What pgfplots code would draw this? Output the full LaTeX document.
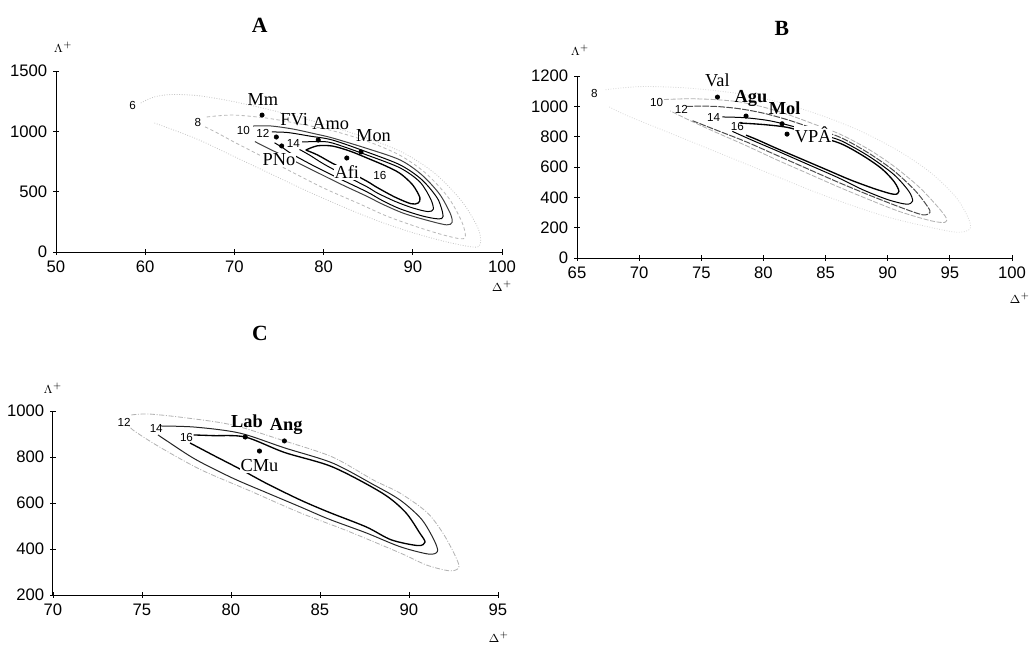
\documentclass[border=0pt]{standalone}
\usepackage{fontspec}
\setmainfont{Liberation Sans}
\newfontfamily\tms{Liberation Serif}
\usepackage{pgfplots}
\pgfplotsset{compat=1.18}

\pgfplotsset{
  panel/.style={
    scale only axis,
    axis lines=left,
    axis line style={-, line width=0.6pt},
    tick align=center,
    major tick length=3.5pt,
    tick style={black, line width=0.5pt},
    ticklabel style={font=\fontsize{10}{12}\selectfont},
    /pgf/number format/assume math mode=true,
    /pgf/number format/1000 sep={},
    clip=false,
  },
  c06/.style={gray!45, densely dotted, line width=0.5pt, smooth, no markers},
  c08/.style={gray!55, dash pattern=on 2pt off 1.5pt, line width=0.5pt, smooth, no markers},
  c10/.style={black!75, line width=0.6pt, smooth, no markers},
  cblk/.style={black, line width=0.6pt, smooth, no markers},
  cthk/.style={black, line width=0.8pt, smooth, no markers},
  cgdash/.style={gray!60, dash pattern=on 3pt off 1pt, line width=0.5pt, smooth, no markers},
  cgdd/.style={gray!60, dash pattern=on 3pt off 1pt on 0.6pt off 1pt, line width=0.5pt, smooth, no markers},
  dots/.style={only marks, mark=*, mark size=1.3pt, black},
}
\tikzset{
  lab/.style={font=\tms\fontsize{11}{13}\selectfont, inner sep=0.5pt},
  blab/.style={font=\tms\bfseries\fontsize{11}{13}\selectfont, inner sep=0.5pt},
  clab/.style={font=\fontsize{7}{8}\selectfont, inner sep=0.3pt},
  ttl/.style={font=\tms\bfseries\fontsize{13}{15}\selectfont},
  axl/.style={font=\fontsize{7.5}{9}\selectfont},
}

\begin{document}
\begin{tikzpicture}
\path[use as bounding box] (0,0) rectangle (621.6pt,-386.4pt);

% ---------------- A ----------------
\begin{axis}[panel,
  at={(33.6pt,-151.2pt)}, anchor=south west,
  width=267.6pt, height=108.6pt,
  xmin=50, xmax=100, ymin=0, ymax=1500,
  xtick={50,60,...,100}, ytick={0,500,1000,1500}]
\addplot[c06] coordinates {(59.5,1235) (61,1285) (63,1305) (66,1295) (70,1245) (75,1160) (80,1060) (85,940) (89,820) (92.5,650) (95.5,420) (97.3,200) (97.6,80) (97,40) (94,80) (90,160) (86,260) (82,380) (78,510) (74,650) (70,790) (66,930) (62.5,1030) (61,1070)};
\addplot[c08] coordinates {(66.9,1119) (69.8,1135) (73.6,1110) (77.4,1060) (81,1005) (85,915) (88.6,800) (91.5,650) (94,450) (95.5,250) (95.9,130) (95.3,110) (93,150) (90,220) (87,300) (84,400) (80,530) (76,680) (72.9,800) (70,910) (68,990) (66.5,1045)};
\addplot[c10] coordinates {(72.1,1044) (74,1045) (76.5,1020) (79,980) (81,945) (85,855) (88.6,762) (91,640) (93,480) (94.2,320) (94.4,245) (93.8,225) (92,255) (89,320) (86.5,400) (84.9,460) (82,560) (79,670) (76,780) (73.7,862) (72.3,915)};
\addplot[cblk] coordinates {(74.2,995) (76,990) (78.5,960) (81,928) (85,825) (88.6,721) (91,600) (92.8,440) (93.4,295) (92.8,275) (91,300) (88.5,360) (86.5,430) (84.9,497) (82,600) (79,710) (76.5,810) (75.4,865) (74.5,905)};
\addplot[cblk] coordinates {(77.6,912) (79.5,915) (81,903) (85,800) (88.6,696) (90.8,580) (92,440) (92.3,355) (91.7,335) (90,365) (88,420) (86,490) (84.9,539) (82.5,630) (80,730) (78.5,800) (77.3,850)};
\addplot[cthk] coordinates {(78,845) (79.3,880) (81,878) (83,835) (85,775) (87,712) (88.6,650) (90,555) (90.8,450) (90.6,406) (89.8,400) (88,455) (86,535) (84.9,585) (83,660) (81,735) (79.3,805) (78,845)};
\addplot[dots] coordinates {(73.1,1135) (74.7,953) (75.3,879) (79.4,928) (84.2,829) (82.6,779)};
\node[lab] at (axis cs:73.2,1265) {Mm};
\node[lab] at (axis cs:76.7,1094) {FVi};
\node[lab] at (axis cs:80.8,1061) {Amo};
\node[lab] at (axis cs:85.6,961) {Mon};
\node[lab, fill=white] at (axis cs:75.0,765) {PNo};
\node[lab, fill=white] at (axis cs:82.6,660) {Afi};
\node[clab] at (axis cs:58.6,1218) {6};
\node[clab] at (axis cs:65.9,1077) {8};
\node[clab] at (axis cs:71.0,1011) {10};
\node[clab] at (axis cs:73.2,986) {12};
\node[clab] at (axis cs:76.6,903) {14};
\node[clab] at (axis cs:86.3,638) {16};
\node[ttl] at (rel axis cs:0.457,1.254) {A};
\node[axl] at (rel axis cs:0.016,1.13) {$\Lambda^{+}$};
\node[axl] at (rel axis cs:1.0,-0.19) {$\Delta^{+}$};
\end{axis}

% ---------------- B ----------------
\begin{axis}[panel,
  at={(346.2pt,-154.8pt)}, anchor=south west,
  width=261pt, height=109.2pt,
  xmin=65, xmax=100, ymin=0, ymax=1200,
  xtick={65,70,...,100}, ytick={0,200,...,1200}]
\addplot[c06, gray!30] coordinates {(67.3,1110) (70,1130) (73,1125) (76,1105) (79,1070) (82,1010) (85,930) (88,830) (91,700) (93.5,560) (95.5,400) (96.5,260) (96.6,190) (95.5,170) (93,210) (90,270) (87,350) (84,440) (81,540) (78,640) (75,740) (72,840) (69,940) (67.5,1000)};
\addplot[cgdash] coordinates {(72.0,1045) (74,1050) (76,1045) (78,1030) (80,995) (82,945) (84,885) (86.2,815) (88.5,715) (90.5,605) (92.5,470) (94,340) (94.7,265) (94.6,235) (93.5,245) (91,305) (88.5,385) (86,470) (83.5,560) (81,650) (78.5,745) (76,835) (74,910) (72.5,970)};
\addplot[cblk, black!70, dash pattern=on 4pt off 0.8pt] coordinates {(73.8,1000) (76,1000) (78,985) (80,955) (82,910) (84,855) (86.2,795) (88.5,690) (90.5,575) (92.2,445) (93.2,340) (93.4,300) (92.8,285) (91,335) (88.5,415) (86,500) (83.5,590) (81,680) (78.5,770) (76,850) (74.3,905)};
\addplot[cblk] coordinates {(76.7,930) (78.5,925) (80.5,905) (82.5,865) (84.5,815) (86.2,775) (88.5,670) (90.5,550) (91.7,440) (92.0,375) (91.5,355) (90,385) (88,450) (86,530) (83.5,620) (81,710) (79,780) (77.5,835)};
\addplot[cthk] coordinates {(78.1,890) (80,880) (82,860) (84,810) (86.2,755) (88,675) (89.5,590) (90.5,505) (90.9,440) (90.5,420) (89,455) (87,515) (85,585) (83,655) (81,725) (79.5,780) (78.6,810)};
\addplot[dots] coordinates {(76.3,1061) (78.6,936) (81.5,885) (81.9,817)};
\node[lab] at (axis cs:76.3,1173) {Val};
\node[blab] at (axis cs:79.0,1054) {Agu};
\node[blab] at (axis cs:81.7,988) {Mol};
\node[lab, fill=white] at (axis cs:84.0,811) {VP\^A};
\node[clab] at (axis cs:66.4,1087) {8};
\node[clab] at (axis cs:71.4,1028) {10};
\node[clab] at (axis cs:73.4,982) {12};
\node[clab] at (axis cs:76.0,929) {14};
\node[clab] at (axis cs:77.9,870) {16};
\node[ttl] at (rel axis cs:0.471,1.264) {B};
\node[axl] at (rel axis cs:0.007,1.14) {$\Lambda^{+}$};
\node[axl] at (rel axis cs:1.018,-0.22) {$\Delta^{+}$};
\end{axis}

% ---------------- C ----------------
\begin{axis}[panel,
  at={(31.8pt,-357pt)}, anchor=south west,
  width=267pt, height=110.4pt,
  xmin=70, xmax=95, ymin=200, ymax=1000,
  xtick={70,75,...,95}, ytick={200,400,...,1000}]
\addplot[cgdd] coordinates {(74.4,983) (75.4,987) (77.5,970) (80.1,939) (83,870) (85.7,800) (88,700) (89.5,643) (91,560) (91.9,470) (92.6,370) (92.8,320) (92.3,305) (91,330) (89.5,383) (86.5,480) (83.9,557) (81,655) (78.3,745) (76,843) (74.5,917) (74.2,945)};
\addplot[cblk, black!85] coordinates {(76.0,935) (78,930) (80.5,904) (83,840) (85.7,774) (88,680) (89.5,613) (90.7,530) (91.4,440) (91.6,390) (91.1,378) (89.5,410) (87.6,470) (85.5,530) (83.9,583) (82,645) (80.1,708) (78,790) (76.4,870) (75.9,896)};
\addplot[cthk] coordinates {(77.9,896) (79,893) (80.8,887) (83,820) (85.7,757) (88.5,643) (89.8,560) (90.6,470) (90.9,430) (90.5,415) (89,440) (87.6,496) (85.5,560) (83.9,613) (82,685) (80.5,748) (79,808) (77.7,861)};
\addplot[dots] coordinates {(80.8,887) (83.0,870) (81.6,826)};
\node[blab] at (axis cs:80.9,955) {Lab};
\node[blab] at (axis cs:83.1,935) {Ang};
\node[lab, fill=white] at (axis cs:81.6,762) {CMu};
\node[clab] at (axis cs:74.0,952) {12};
\node[clab] at (axis cs:75.8,926) {14};
\node[clab] at (axis cs:77.5,887) {16};
\node[ttl] at (rel axis cs:0.465,1.424) {C};
\node[axl] at (rel axis cs:0.0,1.125) {$\Lambda^{+}$};
\node[axl] at (rel axis cs:1.002,-0.228) {$\Delta^{+}$};
\end{axis}
\end{tikzpicture}
\end{document}
